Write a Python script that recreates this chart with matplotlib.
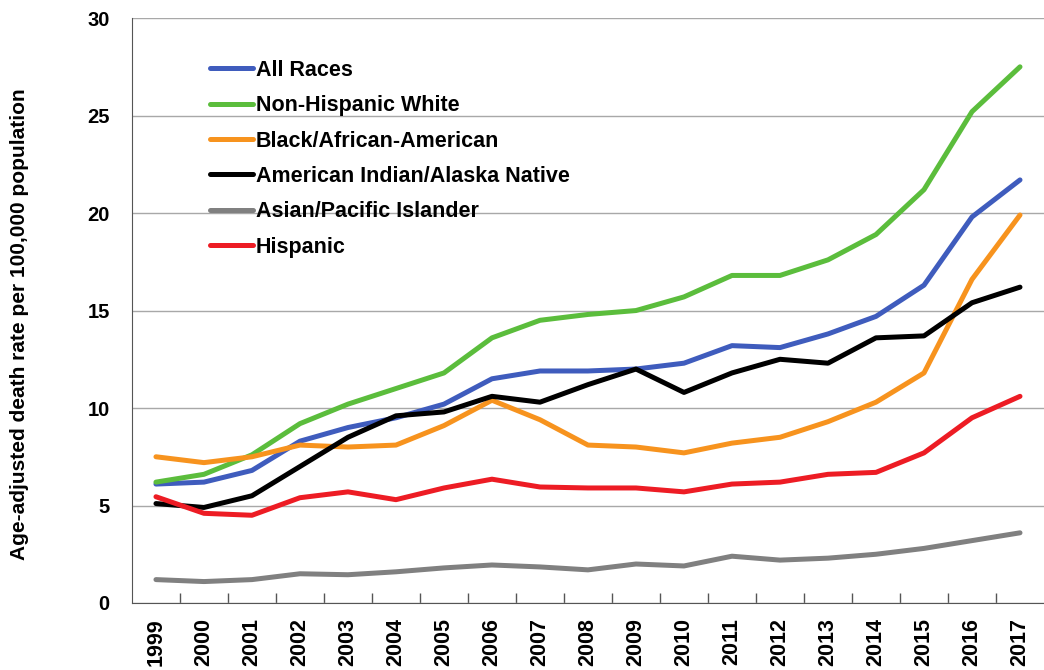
import numpy as np
import matplotlib
matplotlib.use("Agg")
import matplotlib.pyplot as plt
from matplotlib.ticker import FixedLocator

plt.rcParams['font.family'] = ['Liberation Sans', 'DejaVu Sans']

# Data (age-adjusted death rate per 100,000)
years = [str(y) for y in range(1999, 2018)]
all_races = [6.1, 6.2, 6.8, 8.3, 9.0, 9.5, 10.2, 11.5, 11.9, 11.9, 12.0, 12.3, 13.2, 13.1, 13.8, 14.7, 16.3, 19.8, 21.7]
nh_white = [6.2, 6.6, 7.6, 9.2, 10.2, 11.0, 11.8, 13.6, 14.5, 14.8, 15.0, 15.7, 16.8, 16.8, 17.6, 18.9, 21.2, 25.2, 27.5]
black = [7.5, 7.2, 7.5, 8.1, 8.0, 8.1, 9.1, 10.4, 9.4, 8.1, 8.0, 7.7, 8.2, 8.5, 9.3, 10.3, 11.8, 16.6, 19.9]
aian = [5.1, 4.9, 5.5, 7.0, 8.5, 9.6, 9.8, 10.6, 10.3, 11.2, 12.0, 10.8, 11.8, 12.5, 12.3, 13.6, 13.7, 15.4, 16.2]
asian_pi = [1.2, 1.1, 1.2, 1.5, 1.45, 1.6, 1.8, 1.95, 1.85, 1.7, 2.0, 1.9, 2.4, 2.2, 2.3, 2.5, 2.8, 3.2, 3.6]
hispanic = [5.45, 4.6, 4.5, 5.4, 5.7, 5.3, 5.9, 6.35, 5.95, 5.9, 5.9, 5.7, 6.1, 6.2, 6.6, 6.7, 7.7, 9.5, 10.6]

series = [
    ("All Races", all_races, "#3f5cbd"),
    ("Non-Hispanic White", nh_white, "#5bbd3c"),
    ("Black/African-American", black, "#f7931e"),
    ("American Indian/Alaska Native", aian, "#000000"),
    ("Asian/Pacific Islander", asian_pi, "#808080"),
    ("Hispanic", hispanic, "#ed1c24"),
]

fig = plt.figure(figsize=(10.44, 6.7), dpi=100)
ax = fig.add_axes([0.1264, 0.1, 0.8736, 0.873])

x = np.arange(len(years))
for label, vals, color in series:
    ax.plot(x, vals, color=color, lw=3.6, label=label, solid_capstyle='round')

ax.set_xlim(-0.5, len(years) - 0.5)
ax.set_ylim(0, 30)
ax.set_yticks(range(0, 31, 5))
ax.yaxis.grid(True, color='#a8a8a8', lw=1.0)
ax.set_axisbelow(True)

# year labels, with tick marks between categories
ax.set_xticks(x)
ax.set_xticklabels(years, rotation=90, fontsize=15.5, fontweight='bold')
ax.tick_params(axis='x', which='major', length=0, pad=11)
ax.xaxis.set_minor_locator(FixedLocator(x[:-1] + 0.5))
ax.tick_params(axis='x', which='minor', direction='in', length=7, width=1, color='#555555')
ax.tick_params(axis='y', length=0, pad=16, labelsize=14.5)
for t in ax.get_yticklabels():
    t.set_fontweight('bold')

for s in ['top', 'right']:
    ax.spines[s].set_visible(False)
ax.spines['left'].set_color('#555555')
ax.spines['bottom'].set_color('#555555')

ax.set_ylabel("Age-adjusted death rate per 100,000 population", fontsize=15, fontweight='bold')
ax.yaxis.set_label_coords(-0.113, 0.476)

ax.legend(loc='upper left', bbox_to_anchor=(0.064, 0.962), frameon=False,
          prop={'size': 15.5, 'weight': 'bold'}, handlelength=2.0,
          handletextpad=0.15, labelspacing=0.67)

fig.savefig("out.png", dpi=100)
